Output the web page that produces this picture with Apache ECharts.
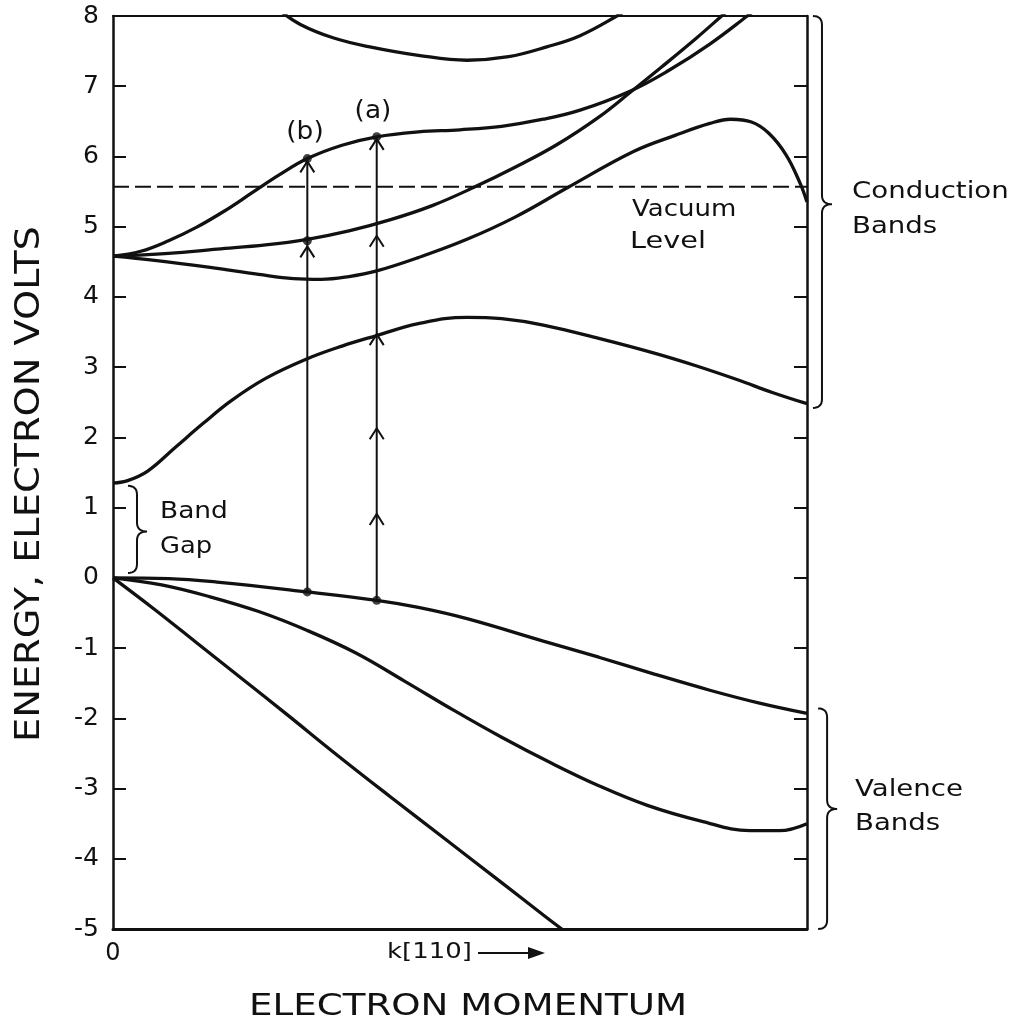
<!DOCTYPE html>
<html><head><meta charset="utf-8">
<script src="https://cdn.jsdelivr.net/npm/echarts@6/dist/echarts.min.js"></script>
<style>html,body{margin:0;padding:0;background:#fff}#c{width:1018px;height:1025px}</style>
</head><body><div id="c"></div>
<script>
// ---- data: k (fraction of the [110] zone) vs energy (eV) ----
const cbLowest = [[0,1.35],[0.02,1.38],[0.05,1.52],[0.09,1.86],[0.13,2.2],[0.17,2.52],[0.22,2.84],[0.28,3.12],[0.33,3.3],[0.38,3.45],[0.44,3.62],[0.51,3.71],[0.56,3.69],[0.62,3.6],[0.70,3.41],[0.78,3.2],[0.84,3.02],[0.90,2.82],[0.95,2.64],[1,2.48]];
const cbDip = [[0,4.58],[0.06,4.52],[0.14,4.42],[0.21,4.32],[0.26,4.26],[0.30,4.25],[0.34,4.29],[0.38,4.37],[0.44,4.56],[0.51,4.82],[0.58,5.14],[0.654,5.55],[0.75,6.07],[0.81,6.3],[0.86,6.47],[0.89,6.53],[0.92,6.49],[0.945,6.33],[0.97,6.02],[0.99,5.62],[1,5.35]];
const cbRising = [[0,4.58],[0.08,4.62],[0.15,4.68],[0.22,4.74],[0.28,4.82],[0.34,4.94],[0.40,5.1],[0.46,5.3],[0.52,5.56],[0.58,5.85],[0.64,6.17],[0.70,6.56],[0.745,6.91],[0.79,7.27],[0.84,7.68],[0.877,8.0],[0.9,8.2]];
const cbAB = [[0,4.58],[0.04,4.65],[0.08,4.8],[0.12,4.99],[0.16,5.22],[0.20,5.48],[0.24,5.74],[0.28,5.97],[0.33,6.16],[0.38,6.28],[0.44,6.35],[0.50,6.38],[0.56,6.43],[0.62,6.53],[0.673,6.66],[0.745,6.93],[0.80,7.22],[0.86,7.6],[0.914,8.0],[0.94,8.2]];
const cbUpper = [[0.24,8.08],[0.27,7.88],[0.317,7.69],[0.37,7.56],[0.44,7.44],[0.51,7.37],[0.57,7.42],[0.625,7.56],[0.673,7.72],[0.726,8.0],[0.75,8.15]];
const vbHeavy = [[0,0],[0.08,-0.01],[0.15,-0.06],[0.28,-0.2],[0.38,-0.32],[0.44,-0.42],[0.51,-0.58],[0.62,-0.9],[0.70,-1.13],[0.78,-1.37],[0.86,-1.6],[0.93,-1.78],[1,-1.93]];
const vbLight = [[0,0],[0.07,-0.1],[0.14,-0.27],[0.21,-0.48],[0.28,-0.75],[0.35,-1.07],[0.42,-1.47],[0.49,-1.88],[0.56,-2.27],[0.63,-2.63],[0.70,-2.96],[0.77,-3.24],[0.846,-3.46],[0.918,-3.6],[0.96,-3.6],[1,-3.5]];
const vbSplit = [[0,0],[0.06,-0.45],[0.12,-0.92],[0.18,-1.39],[0.25,-1.94],[0.32,-2.5],[0.40,-3.12],[0.48,-3.73],[0.56,-4.34],[0.62,-4.8],[0.66,-5.1]];
const vacuumLevel = [[0,5.57],[1,5.57]];
const transitionB = [[0.28,-0.2],[0.28,5.97]];
const transitionA = [[0.38,-0.32],[0.38,6.28]];
const transitionDots = [[0.28,-0.2],[0.38,-0.32],[0.28,5.97],[0.38,6.28],[0.28,4.8]];
const arrowHeads = [[0.38,0.91],[0.38,2.13],[0.38,3.47],[0.38,4.87],[0.38,6.25],[0.28,4.72],[0.28,5.93]];
// braces: [k of hook, top energy, bottom energy, tip energy]
const braces = [[0.0216,1.31,0.07,0.66],[1.0086,8.0,2.42,5.32],[1.016,-1.86,-5.0,-3.29]];
const xTickLabels = {0:'0'};
const yMin = -5, yMax = 8, yStep = 1;

const INK = '#111';
const FONT = 'DejaVu Sans';

function quad(pts, a, c, b){
  for (let i = 0; i <= 8; i++){
    const t = i/8, u = 1-t;
    pts.push([u*u*a[0]+2*u*t*c[0]+t*t*b[0], u*u*a[1]+2*u*t*c[1]+t*t*b[1]]);
  }
}
function braceItem(params, api){
  const top = api.coord([api.value(0), api.value(1)]);
  const bot = api.coord([api.value(0), api.value(2)]);
  const tip = api.coord([api.value(0), api.value(3)]);
  const hx = top[0], sx = hx + 9, tx = sx + 10, r = 9;
  const pts = [];
  quad(pts, [hx, top[1]], [sx, top[1]], [sx, top[1]+r]);
  quad(pts, [sx, tip[1]-r], [sx, tip[1]], [tx, tip[1]]);
  quad(pts, [tx, tip[1]], [sx, tip[1]], [sx, tip[1]+r]);
  quad(pts, [sx, bot[1]-r], [sx, bot[1]], [hx, bot[1]]);
  return {type:'polyline', shape:{points:pts}, style:{stroke:INK, lineWidth:2, fill:null}};
}
function chevronItem(params, api){
  const p = api.coord([api.value(0), api.value(1)]);
  return {type:'polyline', shape:{points:[[p[0]-7,p[1]+11],[p[0],p[1]],[p[0]+7,p[1]+11]]}, style:{stroke:INK, lineWidth:2, fill:null}};
}
function band(data){
  return {type:'line', data:data, smooth:0.4, showSymbol:false, clip:true, lineStyle:{color:INK, width:3.3}, z:3};
}
function txt(s, x, y, size, align, sx, rot){
  return {type:'text', x:x, y:y, rotation:rot||0, scaleX:sx||1, z:10,
    style:{text:s, fontSize:size, fontFamily:FONT, fill:INK, textAlign:align||'left', textVerticalAlign:'middle'}};
}

const chart = echarts.init(document.getElementById('c'), null, {renderer:'canvas'});
chart.setOption({
  animation:false,
  backgroundColor:'#fff',
  grid:{left:113, right:211, top:16, bottom:96},
  xAxis:[
    {type:'value', min:0, max:1, interval:1, position:'bottom',
      axisLine:{show:true, onZero:false, lineStyle:{color:INK, width:3}},
      axisTick:{show:false}, splitLine:{show:false},
      axisLabel:{show:true, margin:13, fontSize:24, fontFamily:FONT, color:INK, formatter:v => xTickLabels[v] || ''}},
    {type:'value', min:0, max:1, position:'top',
      axisLine:{show:true, onZero:false, lineStyle:{color:INK, width:2}},
      axisTick:{show:false}, splitLine:{show:false}, axisLabel:{show:false}}
  ],
  yAxis:[
    {type:'value', min:yMin, max:yMax, interval:yStep, position:'left',
      axisLine:{show:true, onZero:false, lineStyle:{color:INK, width:2.5}},
      axisTick:{show:true, inside:true, length:13, lineStyle:{color:INK, width:2}},
      splitLine:{show:false},
      axisLabel:{margin:14, fontSize:25, fontFamily:FONT, color:INK}},
    {type:'value', min:yMin, max:yMax, interval:yStep, position:'right',
      axisLine:{show:true, onZero:false, lineStyle:{color:INK, width:2.5}},
      axisTick:{show:true, inside:true, length:13, lineStyle:{color:INK, width:2}},
      splitLine:{show:false}, axisLabel:{show:false}}
  ],
  series:[
    band(cbLowest), band(cbDip), band(cbRising), band(cbAB), band(cbUpper),
    band(vbHeavy), band(vbLight), band(vbSplit),
    {type:'line', data:vacuumLevel, showSymbol:false, lineStyle:{color:INK, width:2, type:[16,6]}, z:2},
    {type:'line', data:transitionB, showSymbol:false, lineStyle:{color:INK, width:2}, z:2},
    {type:'line', data:transitionA, showSymbol:false, lineStyle:{color:INK, width:2}, z:2},
    {type:'scatter', data:transitionDots, symbol:'circle', symbolSize:9, itemStyle:{color:INK}, z:5},
    {type:'custom', data:arrowHeads, renderItem:chevronItem, z:4},
    {type:'custom', data:braces, renderItem:braceItem, clip:false, z:4}
  ],
  graphic:[
    txt('(b)', 305, 133, 24, 'center', 1.1),
    txt('(a)', 373, 112, 24, 'center', 1.1),
    txt('Vacuum', 632, 210, 23, 'left', 1.13),
    txt('Level', 630, 242, 23, 'left', 1.25),
    txt('Band', 160, 512, 23, 'left', 1.15),
    txt('Gap', 160, 547, 23, 'left', 1.12),
    txt('Conduction', 852, 192, 23, 'left', 1.2),
    txt('Bands', 852, 227, 23, 'left', 1.2),
    txt('Valence', 855, 790, 23, 'left', 1.2),
    txt('Bands', 855, 824, 23, 'left', 1.2),
    txt('k[110]', 387, 952, 22, 'left', 1.18),
    {type:'line', shape:{x1:478, y1:953, x2:532, y2:953}, style:{stroke:INK, lineWidth:2}, z:10},
    {type:'polygon', shape:{points:[[528,947],[545,953],[528,959]]}, style:{fill:INK}, z:10},
    txt('ELECTRON MOMENTUM', 468, 1007, 30, 'center', 1.24),
    txt('ENERGY, ELECTRON VOLTS', 30, 484, 33, 'center', 1.16, Math.PI/2)
  ]
});
</script></body></html>
